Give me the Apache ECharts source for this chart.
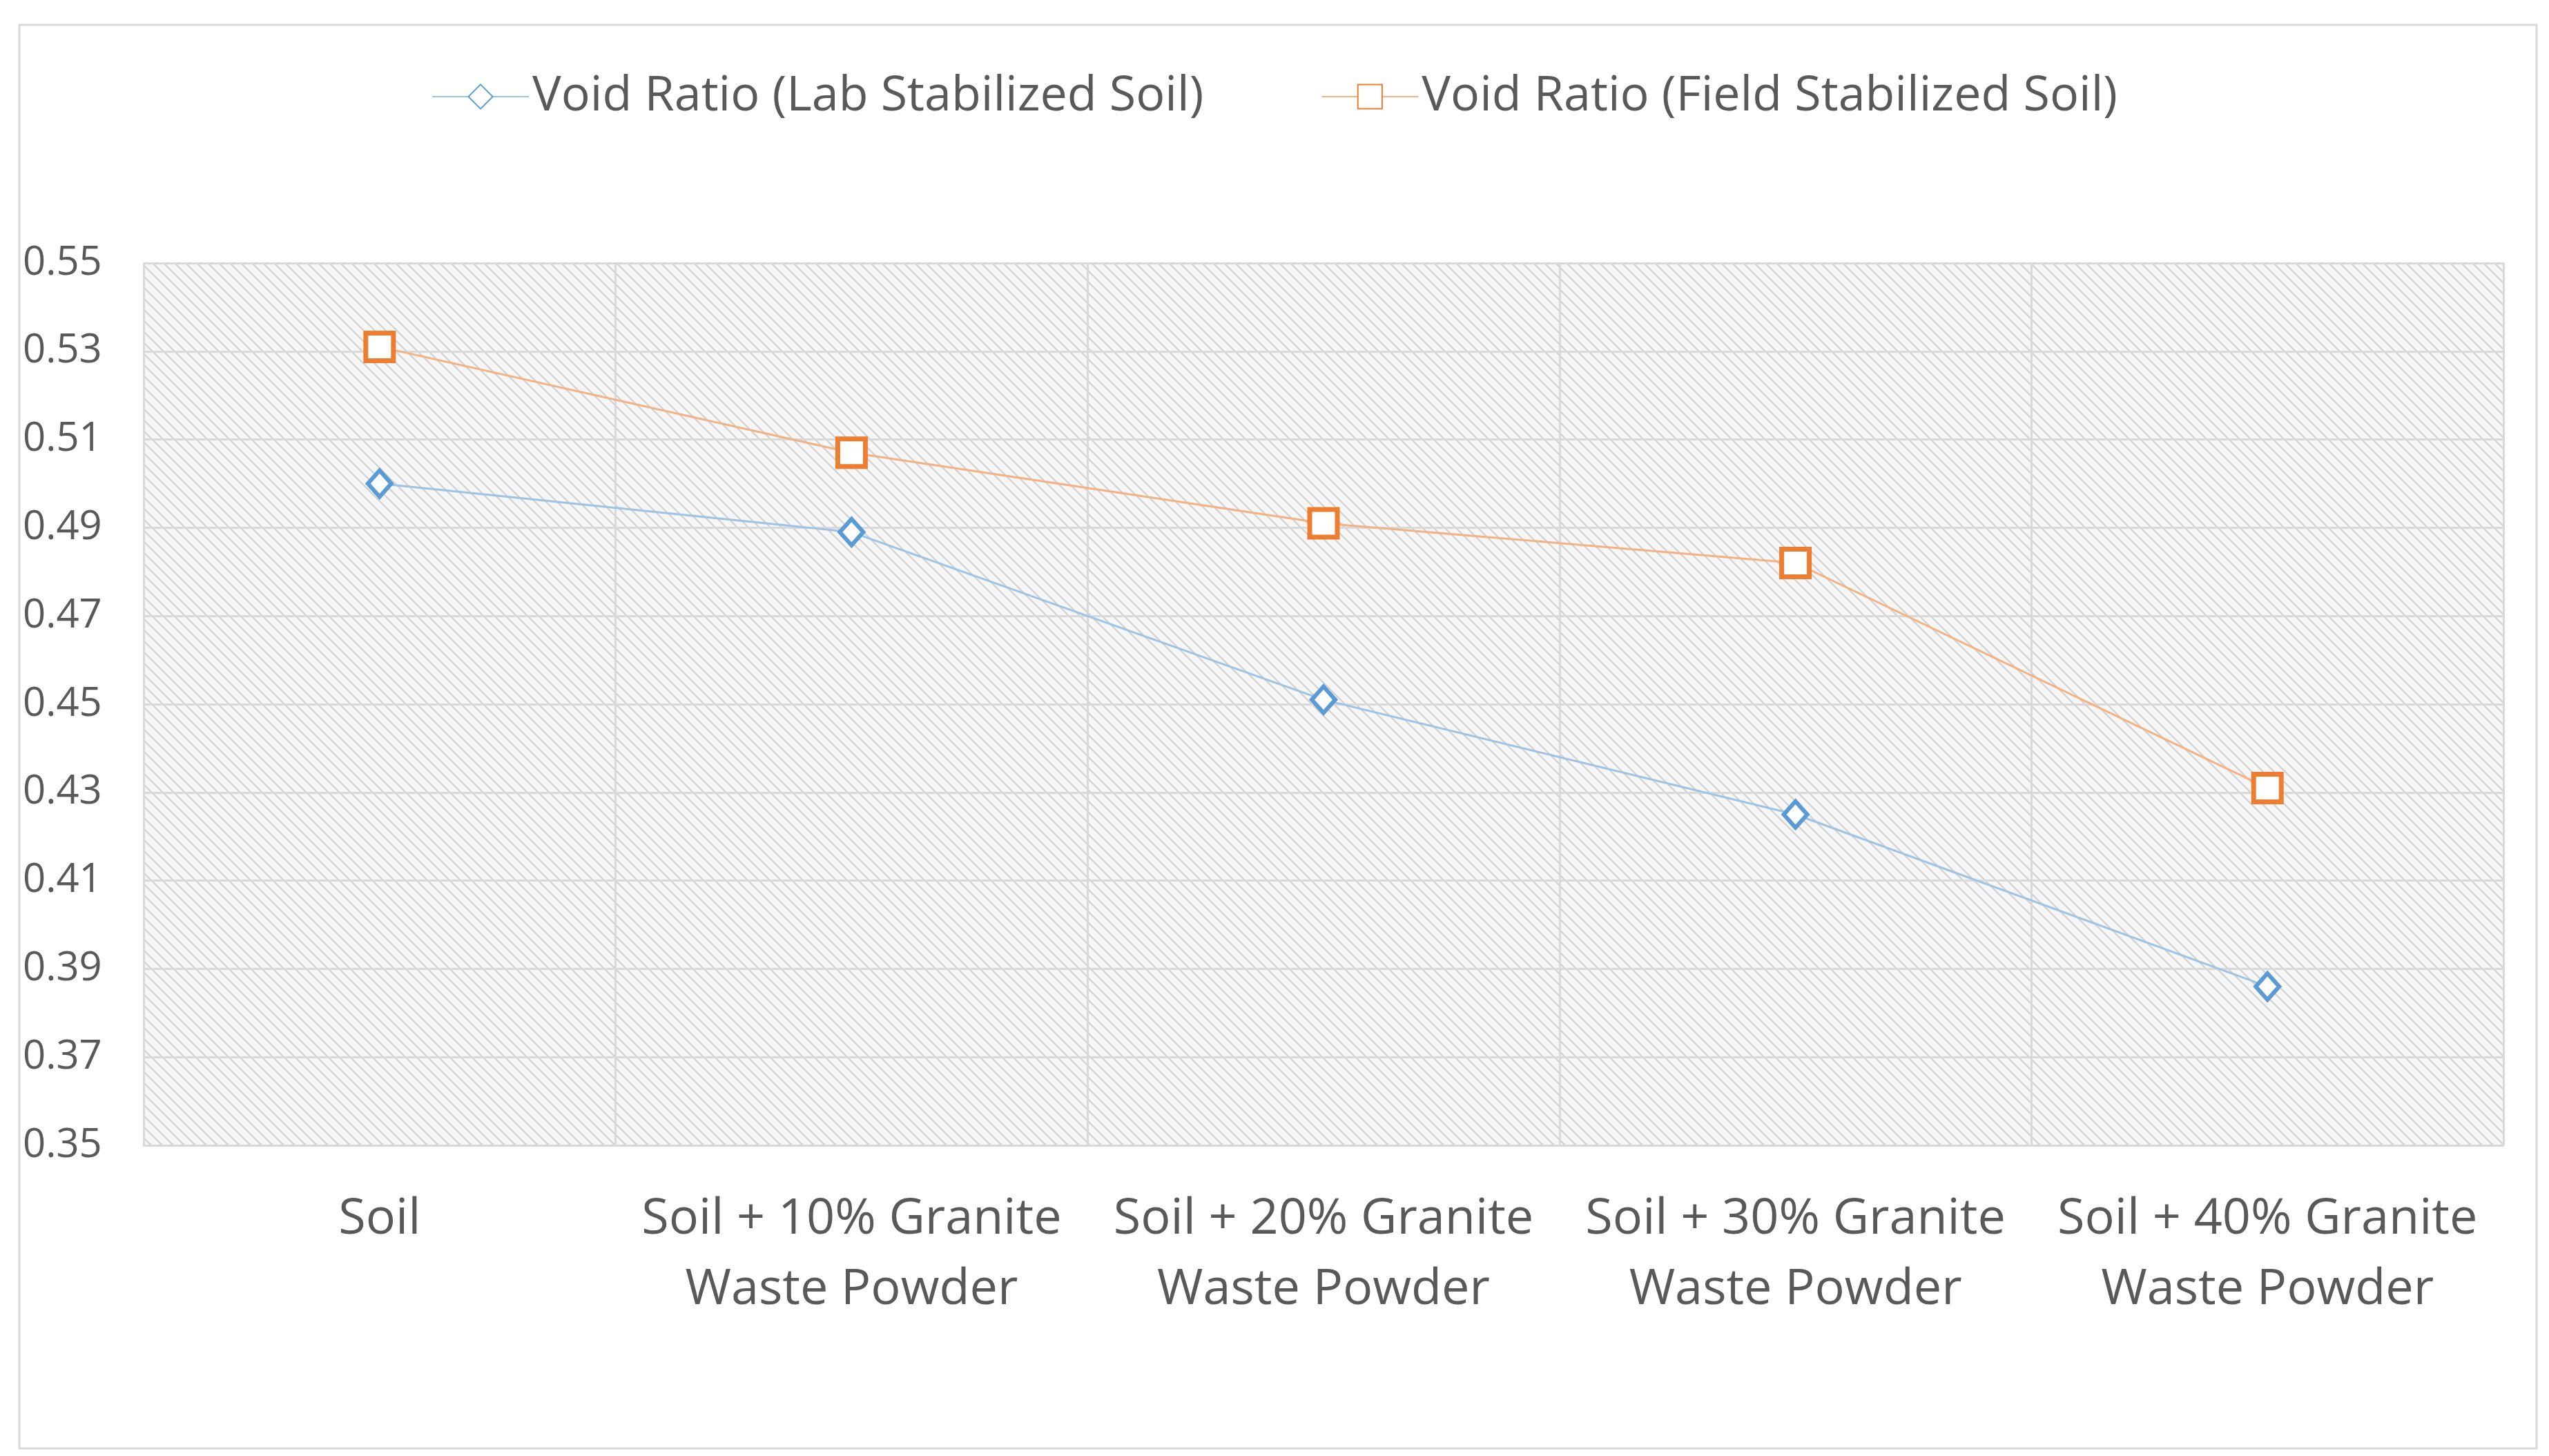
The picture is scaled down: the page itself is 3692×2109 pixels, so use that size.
<!DOCTYPE html>
<html>
<head>
<meta charset="utf-8">
<script src="https://cdn.jsdelivr.net/npm/echarts@6/dist/echarts.min.js"></script>
<style>html,body{margin:0;padding:0;background:#fff}#container{width:3692px;height:2109px}</style>
</head>
<body>
<div id="container"></div>
<script>
var categories = ['Soil', 'Soil + 10% Granite\nWaste Powder', 'Soil + 20% Granite\nWaste Powder', 'Soil + 30% Granite\nWaste Powder', 'Soil + 40% Granite\nWaste Powder'];
var labVoid = [0.500, 0.489, 0.451, 0.425, 0.386];
var fieldVoid = [0.531, 0.507, 0.491, 0.482, 0.431];
var yTicks = [0.35, 0.37, 0.39, 0.41, 0.43, 0.45, 0.47, 0.49, 0.51, 0.53, 0.55];

// diagonal hatch for the plot background
var hatch = document.createElement('canvas');
hatch.width = 16; hatch.height = 16;
var hc = hatch.getContext('2d');
hc.fillStyle = '#f6f6f6'; hc.fillRect(0, 0, 16, 16);
hc.strokeStyle = '#d0d0d0'; hc.lineWidth = 2.2;
hc.beginPath();
hc.moveTo(-4, -4); hc.lineTo(20, 20);
hc.moveTo(-4, 12); hc.lineTo(4, 20);
hc.moveTo(12, -4); hc.lineTo(20, 4);
hc.stroke();

var dom = document.getElementById('container');
var myChart = echarts.init(dom);
var font = 'Open Sans';
var option = {
    animation: false,
    backgroundColor: '#fff',
    graphic: [{
        type: 'rect',
        shape: { x: 28, y: 36, width: 3646, height: 2062 },
        style: { fill: 'none', stroke: '#d9d9d9', lineWidth: 3 }
    }],
    legend: {
        top: 100,
        left: 'center',
        itemGap: 170,
        itemWidth: 140,
        itemHeight: 44,
        textStyle: { fontFamily: font, fontSize: 70, color: '#595959' },
        data: ['Void Ratio (Lab Stabilized Soil)', 'Void Ratio (Field Stabilized Soil)']
    },
    grid: {
        left: 208, right: 66, top: 381, bottom: 450,
        show: true,
        borderWidth: 0,
        backgroundColor: { image: hatch, repeat: 'repeat' }
    },
    xAxis: {
        type: 'category',
        data: categories,
        boundaryGap: true,
        axisLine: { lineStyle: { color: '#d9d9d9', width: 3 } },
        axisTick: { show: false },
        splitLine: { show: true, lineStyle: { color: '#d9d9d9', width: 3 } },
        axisLabel: { fontFamily: font, fontSize: 72, color: '#595959', lineHeight: 102, margin: 56, interval: 0 }
    },
    yAxis: {
        type: 'value',
        min: yTicks[0], max: yTicks[yTicks.length - 1], interval: 0.02,
        axisLine: { show: false },
        axisTick: { show: false },
        splitLine: { lineStyle: { color: '#d9d9d9', width: 3 } },
        axisLabel: { fontFamily: font, fontSize: 58, color: '#595959', align: 'left', margin: 175,
            formatter: function (v) { return v.toFixed(2); } }
    },
    series: [{
        name: 'Void Ratio (Lab Stabilized Soil)',
        type: 'line',
        data: labVoid,
        symbol: 'diamond',
        symbolSize: [34, 38],
        lineStyle: { color: '#9dc3e6', width: 3 },
        itemStyle: { color: '#fff', borderColor: '#5b9bd5', borderWidth: 6 }
    }, {
        name: 'Void Ratio (Field Stabilized Soil)',
        type: 'line',
        data: fieldVoid,
        symbol: 'rect',
        symbolSize: 40,
        lineStyle: { color: '#f4b183', width: 3 },
        itemStyle: { color: '#fff', borderColor: '#ed7d31', borderWidth: 7 }
    }]
};
myChart.setOption(option);
</script>
</body>
</html>
